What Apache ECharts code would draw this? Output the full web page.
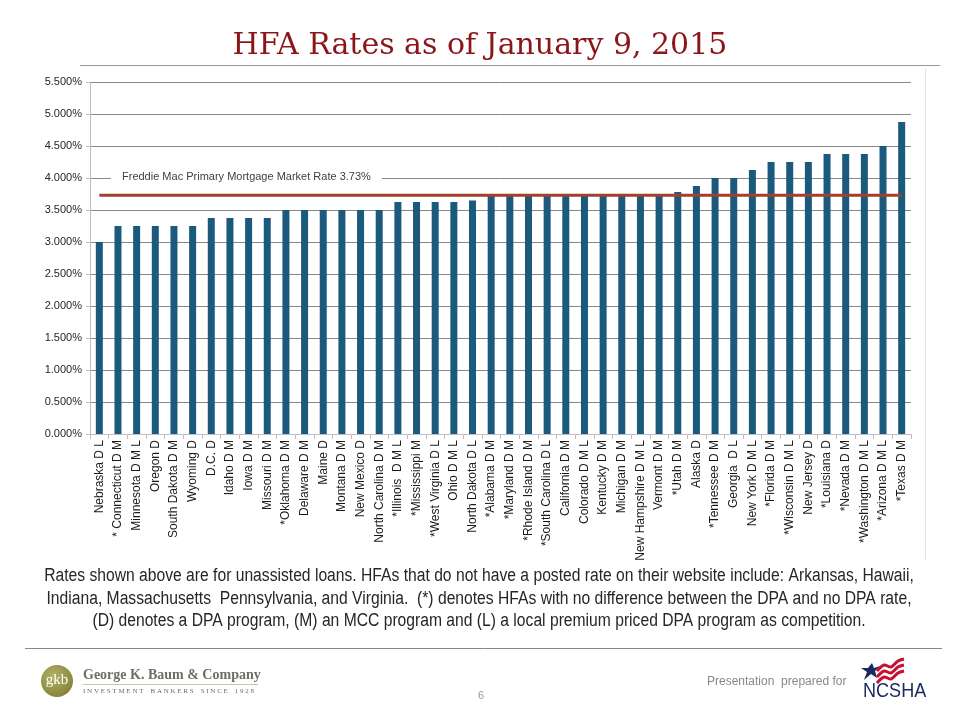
<!DOCTYPE html>
<html>
<head>
<meta charset="utf-8">
<script src="https://cdn.jsdelivr.net/npm/echarts@6/dist/echarts.min.js"></script>
<style>
html,body{margin:0;padding:0;background:#fff;}
#chart{width:960px;height:720px;}
</style>
</head>
<body>
<div id="chart"></div>
<script>
const categories = [
  'Nebraska D L', '* Connecticut D M', 'Minnesota D M L', 'Oregon D', 'South Dakota D M',
  'Wyoming D', 'D.C. D', 'Idaho D M', 'Iowa D M', 'Missouri D M',
  '*Oklahoma D M', 'Delaware D M', 'Maine D', 'Montana D M', 'New Mexico D',
  'North Carolina D M', '*Illinois  D M L', '*Mississippi M', '*West Virginia D L', 'Ohio D M L',
  'North Dakota D L', '*Alabama D M', '*Maryland D M', '*Rhode Island D M', '*South Carolina D L',
  'California D M', 'Colorado D M L', 'Kentucky D M', 'Michigan D M', 'New Hampshire D M L',
  'Vermont D M', '*Utah D M', 'Alaska D', '*Tennessee D M', 'Georgia  D L',
  'New York D M L', '*Florida D M', '*Wisconsin D M L', 'New Jersey D', '*Louisiana D',
  '*Nevada D M', '*Washington D M L', '*Arizona D M L', '*Texas D M'
];
const rates = [
  3.000, 3.250, 3.250, 3.250, 3.250,
  3.250, 3.375, 3.375, 3.375, 3.375,
  3.500, 3.500, 3.500, 3.500, 3.500,
  3.500, 3.625, 3.625, 3.625, 3.625,
  3.650, 3.740, 3.750, 3.750, 3.750,
  3.750, 3.750, 3.750, 3.750, 3.750,
  3.750, 3.780, 3.875, 4.000, 4.000,
  4.125, 4.250, 4.250, 4.250, 4.375,
  4.375, 4.375, 4.500, 4.875
];
const freddieRate = 3.73;
const freddieLabel = 'Freddie Mac Primary Mortgage Market Rate 3.73%';
const titleText = 'HFA Rates as of January 9, 2015';
const noteLines = [
  'Rates shown above are for unassisted loans. HFAs that do not have a posted rate on their website include: Arkansas, Hawaii,',
  'Indiana, Massachusetts  Pennsylvania, and Virginia.  (*) denotes HFAs with no difference between the DPA and no DPA rate,',
  '(D) denotes a DPA program, (M) an MCC program and (L) a local premium priced DPA program as competition.'
];

const narrow = "'Liberation Sans Narrow', 'Arial Narrow', 'Liberation Sans', Arial, sans-serif";
const sans = "'Liberation Sans', Arial, sans-serif";

const chart = echarts.init(document.getElementById('chart'), null, {renderer: 'canvas'});

const stripe = (dy) => ({
  type: 'polyline',
  shape: {points: [[877, 671 + dy], [884, 665 + dy], [891, 667 + dy], [898, 661 + dy], [904, 659 + dy]], smooth: 0.3},
  style: {stroke: '#c8102e', lineWidth: 3, fill: null, lineCap: 'butt'}
});

const graphics = [
  // title
  {type: 'text', x: 480, y: 31, style: {text: titleText, font: '30px "DejaVu Serif", Georgia, serif', fill: '#8B1519', align: 'center'}},
  {type: 'line', shape: {x1: 80, y1: 65.5, x2: 940, y2: 65.5}, style: {stroke: '#999', lineWidth: 1}},
  // chart area right border
  {type: 'line', shape: {x1: 925.5, y1: 68, x2: 925.5, y2: 560}, style: {stroke: '#e4e4e4', lineWidth: 1}},
  // reference line label
  {type: 'text', x: 111, y: 170, z: 100, style: {text: freddieLabel, font: '11px ' + sans, fill: '#404040', backgroundColor: '#fff', padding: [1, 11, 1, 11]}},
  // note
  {type: 'text', x: 479, y: 565, scaleX: 0.87, originX: 0, style: {text: noteLines.join('\n'), font: '18px ' + sans, fill: '#262626', align: 'center', lineHeight: 22.5}},
  // footer line
  {type: 'line', shape: {x1: 25, y1: 648.5, x2: 942, y2: 648.5}, style: {stroke: '#888', lineWidth: 1}},
  // gkb logo
  {type: 'circle', shape: {cx: 57, cy: 681, r: 16}, style: {fill: new echarts.graphic.RadialGradient(0.4, 0.35, 0.8, [{offset: 0, color: '#b3b163'}, {offset: 1, color: '#7d7b34'}])}},
  {type: 'text', x: 57, y: 680, style: {text: 'gkb', font: '15px "Liberation Serif", serif', fill: '#fff', align: 'center', verticalAlign: 'middle'}},
  {type: 'text', x: 83, y: 668, style: {text: 'George K. Baum & Company', font: 'bold 14px "Liberation Serif", serif', fill: '#6e6e64'}},
  {type: 'line', shape: {x1: 83, y1: 684.5, x2: 258, y2: 684.5}, style: {stroke: '#c4c4b8', lineWidth: 1}},
  {type: 'text', x: 83, y: 688, style: {text: 'I N V E S T M E N T    B A N K E R S    S I N C E    1 9 2 8', font: '7px "Liberation Serif", serif', fill: '#6e6e64'}},
  {type: 'text', x: 478, y: 690, style: {text: '6', font: '11px ' + sans, fill: '#999'}},
  {type: 'text', x: 707, y: 676, style: {text: 'Presentation  prepared for', font: '12px ' + sans, fill: '#888'}},
  // NCSHA logo
  {type: 'polygon', shape: {points: [[861, 668], [868, 668], [872, 663], [874, 668], [880, 666], [875, 671], [877, 678], [871, 674], [864, 680], [867, 672]]}, style: {fill: '#1a2a5e'}},
  stripe(0), stripe(6), stripe(12),
  {type: 'text', x: 863, y: 681, scaleX: 0.86, originX: 0, style: {text: 'NCSHA', font: '21px ' + sans, fill: '#1a2a5e'}}
];

chart.setOption({
  animation: false,
  backgroundColor: '#fff',
  grid: {left: 90, right: 49, top: 82, bottom: 286, containLabel: false},
  xAxis: {
    type: 'category',
    data: categories,
    axisLine: {lineStyle: {color: '#bfbfbf', width: 1}},
    axisTick: {show: true, length: 5, lineStyle: {color: '#bfbfbf'}},
    axisLabel: {rotate: 90, interval: 0, margin: 6, color: '#1a1a1a', fontFamily: narrow, fontSize: 12}
  },
  yAxis: {
    type: 'value',
    min: 0, max: 5.5, interval: 0.5,
    axisLine: {show: true, lineStyle: {color: '#bfbfbf'}},
    axisTick: {show: true, length: 4, lineStyle: {color: '#bfbfbf'}},
    axisLabel: {formatter: v => v.toFixed(3) + '%', color: '#262626', fontFamily: sans, fontSize: 11, margin: 8},
    splitLine: {show: true, lineStyle: {color: '#878787', width: 1}}
  },
  series: [
    {type: 'bar', data: rates, barWidth: 7, itemStyle: {color: '#1B5A7D'}, z: 2},
    {type: 'line', data: categories.map(() => freddieRate), symbol: 'none', lineStyle: {color: '#A3402A', width: 3}, z: 3}
  ],
  graphic: graphics
});
</script>
</body>
</html>
